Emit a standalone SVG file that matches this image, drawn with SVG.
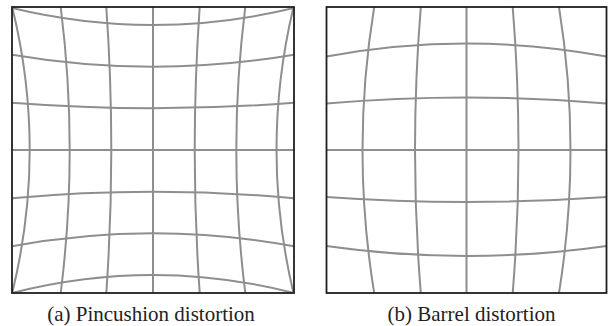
<svg xmlns="http://www.w3.org/2000/svg" width="609" height="326" viewBox="0 0 609 326">
  <style>
    .grid { fill: none; stroke: #8e8e8e; stroke-width: 2; }
    .frame { fill: none; stroke: #1e1e1e; stroke-width: 1.8; }
    .cap { font-family: "Liberation Serif", "Times New Roman", serif; font-size: 21px; fill: #222; text-anchor: middle; }
  </style>
  <defs>
    <clipPath id="clipA"><rect x="12" y="7" width="282" height="286"/></clipPath>
    <clipPath id="clipB"><rect x="326.5" y="7" width="280" height="286"/></clipPath>
  </defs>
  <rect width="609" height="326" fill="#ffffff"/>

  <g id="pincushion">
    <g clip-path="url(#clipA)" class="grid">
      <path d="M12.2,7 Q47.2,150 12.2,293"/>
      <path d="M60.7,7 Q78.7,150 60.7,293"/>
      <path d="M106.3,7 Q116.3,150 106.3,293"/>
      <path d="M153,7 L153,293"/>
      <path d="M199.7,7 Q189.7,150 199.7,293"/>
      <path d="M245.3,7 Q227.3,150 245.3,293"/>
      <path d="M293.5,7 Q259.5,150 293.5,293"/>
      <path d="M12,8 Q153,42 294,8"/>
      <path d="M12,54.7 Q153,78.7 294,54.7"/>
      <path d="M12,102.8 Q153,113.8 294,102.8"/>
      <path d="M12,150 L294,150"/>
      <path d="M12,198.2 Q153,185.2 294,198.2"/>
      <path d="M12,246.3 Q153,220.3 294,246.3"/>
      <path d="M12,293 Q153,257 294,293"/>
    </g>
    <rect class="frame" x="12" y="7" width="282" height="286"/>
    <text class="cap" x="151" y="321">(a) Pincushion distortion</text>
  </g>

  <g id="barrel">
    <g clip-path="url(#clipB)" class="grid">
      <path d="M374.2,7 Q350.8,150 374.2,293"/>
      <path d="M420.8,7 Q409.2,150 420.8,293"/>
      <path d="M466.5,7 L466.5,293"/>
      <path d="M512.7,7 Q524.3,150 512.7,293"/>
      <path d="M559,7 Q582,150 559,293"/>
      <path d="M326.5,56.5 Q466.5,30.5 606.5,56.5"/>
      <path d="M326.5,103.5 Q466.5,91.5 606.5,103.5"/>
      <path d="M326.5,150 L606.5,150"/>
      <path d="M326.5,197 Q466.5,207 606.5,197"/>
      <path d="M326.5,246 Q466.5,266 606.5,246"/>
    </g>
    <rect class="frame" x="326.5" y="7" width="280" height="286"/>
    <text class="cap" x="471.5" y="321">(b) Barrel distortion</text>
  </g>
</svg>
